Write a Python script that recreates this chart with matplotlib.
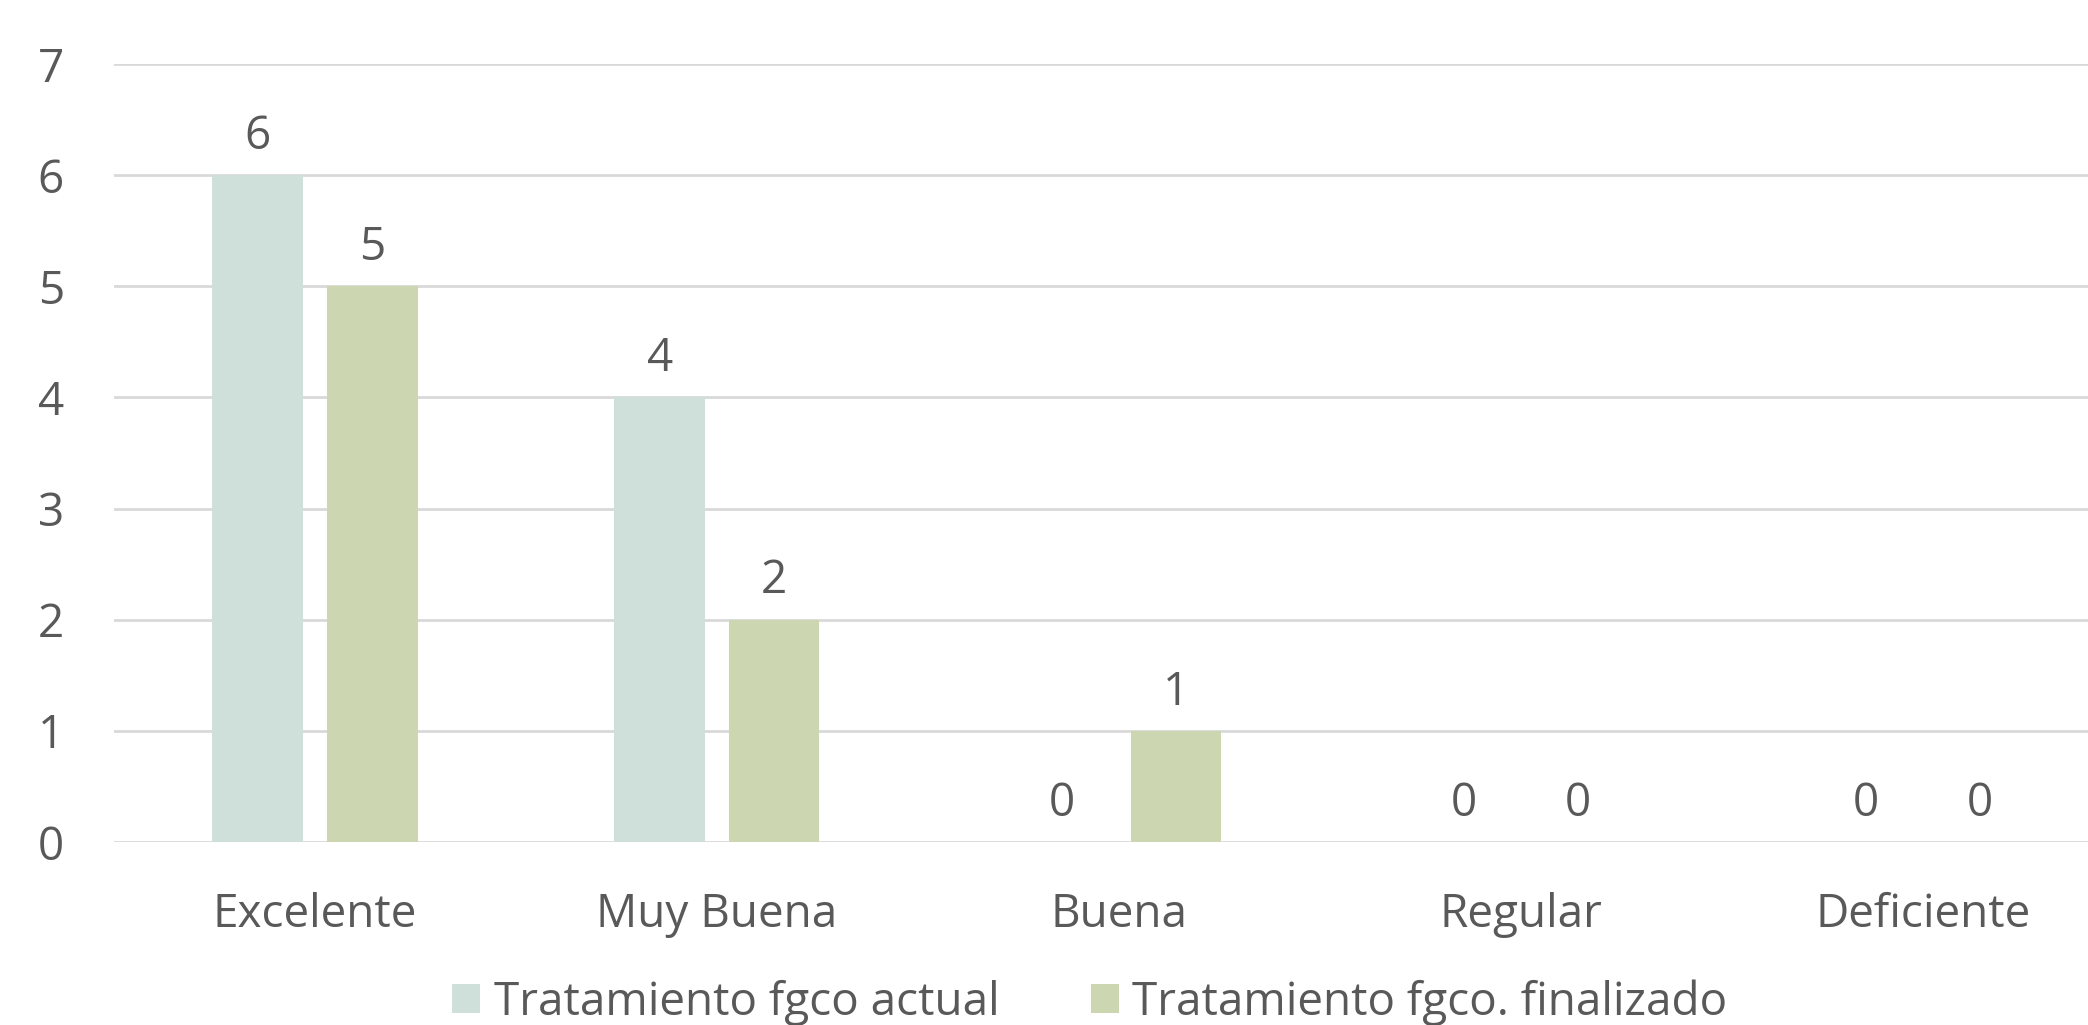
import matplotlib.pyplot as plt
import numpy as np

categories = ["Excelente", "Muy Buena", "Buena", "Regular", "Deficiente"]
actual = [6, 4, 0, 0, 0]
finalizado = [5, 2, 1, 0, 0]
series_names = ["Tratamiento fgco actual", "Tratamiento fgco. finalizado"]

text_color = "#595959"
plt.rcParams['font.family'] = ['Open Sans', 'DejaVu Sans']

fig = plt.figure(figsize=(20.88, 10.25), dpi=100)
ax = fig.add_axes([0.0546, 0.1785, 0.9626, 0.759])

x = np.arange(len(categories))
w = 0.225
off = 0.1425
b1 = ax.bar(x - off, actual, w, color="#CFE0DB", label=series_names[0], zorder=2)
b2 = ax.bar(x + off, finalizado, w, color="#CCD6B1", label=series_names[1], zorder=2)
for b in (b1, b2):
    ax.bar_label(b, padding=11, fontsize=33, color=text_color)

ax.set_xlim(-0.5, 4.5)
ax.set_ylim(0, 7)
ax.set_yticks(range(8))
ax.yaxis.grid(True, color="#D9D9D9", linewidth=2, zorder=0)
ax.set_axisbelow(True)
for s in ax.spines.values():
    s.set_visible(False)
ax.set_xticks(x)
ax.set_xticklabels(categories)
ax.tick_params(axis='both', length=0, labelsize=33, labelcolor=text_color)
ax.tick_params(axis='x', pad=36)
ax.tick_params(axis='y', pad=36)

fig.legend(loc='center', bbox_to_anchor=(0.522, 0.022), ncol=2, frameon=False,
           fontsize=33, labelcolor=text_color, handlelength=0.6, handleheight=0.6,
           handletextpad=0.3, columnspacing=2.0)

fig.savefig("out.png", dpi=100)
